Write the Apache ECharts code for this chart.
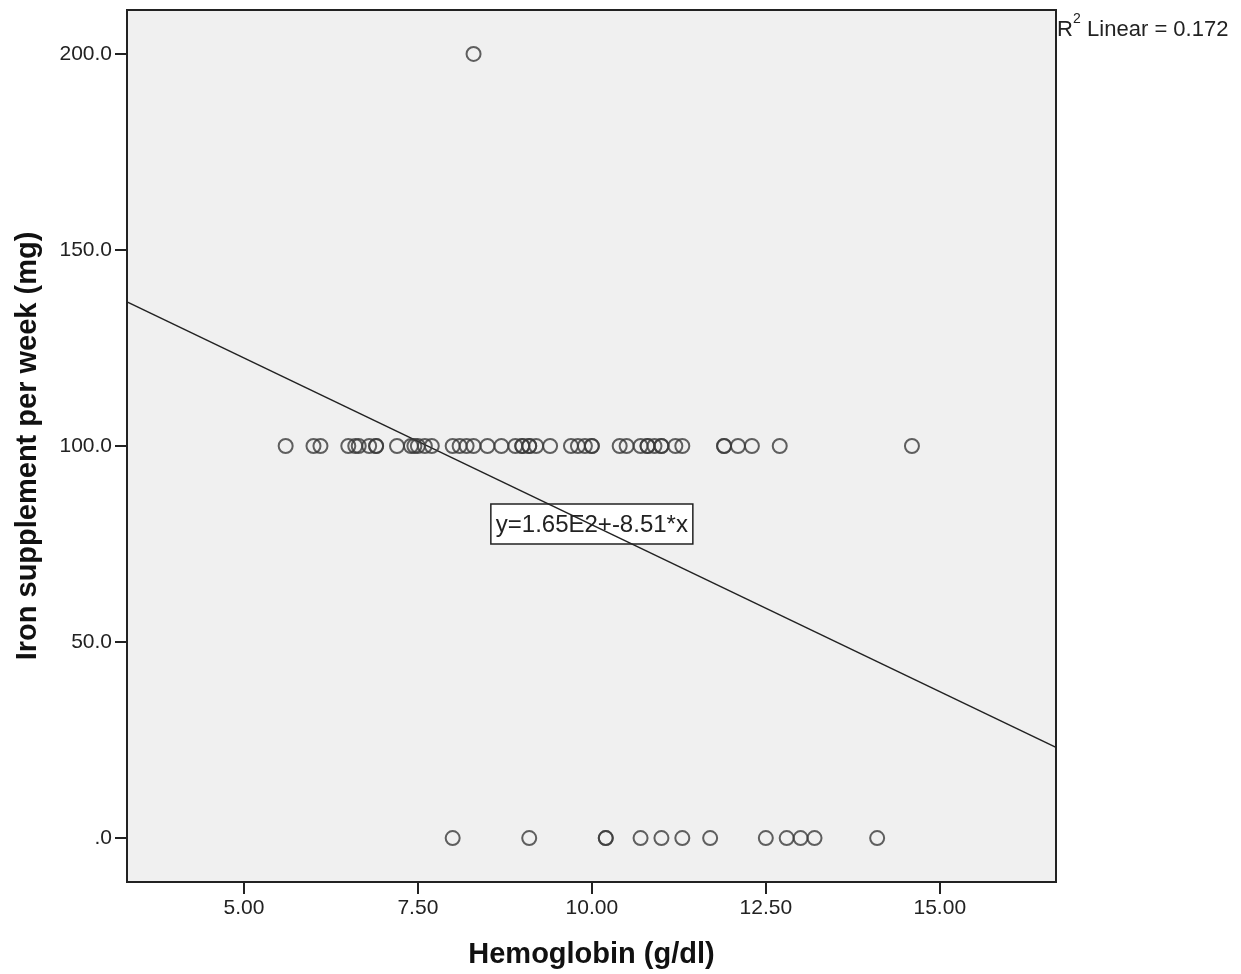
<!DOCTYPE html>
<html>
<head>
<meta charset="utf-8">
<script src="https://cdn.jsdelivr.net/npm/echarts@6/dist/echarts.min.js"></script>
<style>
  html, body { margin: 0; padding: 0; background: #fff; }
  #chart { width: 1241px; height: 974px; }
</style>
</head>
<body>
<div id="chart"></div>
<script>
// Hemoglobin values (g/dl) for subjects taking 100 mg/week
const hb100 = [5.6, 6.0, 6.1, 6.5, 6.6, 6.65, 6.8, 6.9, 6.9, 7.2, 7.4, 7.45, 7.5, 7.6, 7.7,
  8.0, 8.1, 8.2, 8.3, 8.5, 8.7, 8.9, 9.0, 9.0, 9.1, 9.1, 9.2, 9.4, 9.7, 9.8, 9.9, 10.0, 10.0,
  10.4, 10.5, 10.7, 10.8, 10.8, 10.9, 11.0, 11.0, 11.2, 11.3, 11.9, 11.9, 12.1, 12.3, 12.7, 14.6];
// Hemoglobin values for subjects taking no supplement
const hb0 = [8.0, 9.1, 10.2, 10.2, 10.7, 11.0, 11.3, 11.7, 12.5, 12.8, 13.0, 13.2, 14.1];
// outlier at 200 mg
const hb200 = [8.3];

// fit line y = a + b*x
const fitA = 165.0;
const fitB = -8.51;
const r2 = 0.172;

const xMin = 3.32, xMax = 16.67;
const yMin = -11.2, yMax = 211.2;
const xTicks = [5, 7.5, 10, 12.5, 15];
const yTicks = [0, 50, 100, 150, 200];

let points = []
  .concat(hb100.map(x => [x, 100]))
  .concat(hb0.map(x => [x, 0]))
  .concat(hb200.map(x => [x, 200]));

let fitLine = [[xMin, fitA + fitB * xMin], [xMax, fitA + fitB * xMax]];

const ink = '#222';
const sans = 'Liberation Sans, Arial, sans-serif';
const tickFont = { color: '#222', fontSize: 21, fontFamily: sans };
const titleFont = { fontSize: 29, fontWeight: 'bold', color: '#111', fontFamily: sans };

let myChart = echarts.init(document.getElementById('chart'));
myChart.setOption({
  backgroundColor: '#fff',
  animation: false,
  grid: { left: 127, right: 185, top: 10, bottom: 92, show: true,
    backgroundColor: '#f0f0f0', borderColor: ink, borderWidth: 2 },
  xAxis: {
    type: 'value', min: xMin, max: xMax,
    name: 'Hemoglobin (g/dl)', nameLocation: 'middle', nameGap: 58,
    nameTextStyle: titleFont,
    axisLine: { show: true, onZero: false, lineStyle: { color: ink, width: 2 } },
    axisTick: { show: true, length: 12, customValues: xTicks, lineStyle: { color: ink, width: 2 } },
    axisLabel: Object.assign({ customValues: xTicks, margin: 16, formatter: v => v.toFixed(2) }, tickFont),
    splitLine: { show: false }
  },
  yAxis: {
    type: 'value', min: yMin, max: yMax,
    name: 'Iron supplement per week (mg)', nameLocation: 'middle', nameGap: 85,
    nameTextStyle: titleFont,
    axisLine: { show: true, onZero: false, lineStyle: { color: ink, width: 2 } },
    axisTick: { show: true, length: 12, customValues: yTicks, lineStyle: { color: ink, width: 2 } },
    axisLabel: Object.assign({ customValues: yTicks, margin: 15,
      formatter: v => v === 0 ? '.0' : v.toFixed(1) }, tickFont),
    splitLine: { show: false }
  },
  series: [
    {
      type: 'line', data: fitLine, symbol: 'none', silent: true,
      lineStyle: { color: ink, width: 1.5 }, z: 2
    },
    {
      type: 'scatter', data: points, symbol: 'circle', symbolSize: 14,
      itemStyle: { color: 'transparent', borderColor: '#3a3a3a', borderWidth: 2 }, z: 3
    }
  ]
});

// equation label placed at data coords (10.0, 80.1)
let pos = myChart.convertToPixel({ gridIndex: 0 }, [10.0, 80.1]);
myChart.setOption({
  graphic: [
    {
      type: 'group', id: 'eq', x: pos[0] - 101, y: pos[1] - 20, z: 10,
      children: [
        { type: 'rect', shape: { x: 0, y: 0, width: 202, height: 40 },
          style: { fill: '#fff', stroke: ink, lineWidth: 1.5 } },
        { type: 'text', x: 101, y: 21,
          style: { text: 'y=1.65E2+-8.51*x', align: 'center', verticalAlign: 'middle',
            fontSize: 24, fontFamily: sans, fill: '#222' } }
      ]
    },
    { type: 'text', id: 'r2a', x: 1057, y: 30,
      style: { text: 'R', fontSize: 22, fontFamily: sans, fill: '#222', verticalAlign: 'middle' } },
    { type: 'text', id: 'r2b', x: 1073, y: 19,
      style: { text: '2', fontSize: 14, fontFamily: sans, fill: '#222', verticalAlign: 'middle' } },
    { type: 'text', id: 'r2c', x: 1081, y: 30,
      style: { text: ' Linear = ' + r2.toFixed(3), fontSize: 22, fontFamily: sans, fill: '#222', verticalAlign: 'middle' } }
  ]
});
</script>
</body>
</html>
